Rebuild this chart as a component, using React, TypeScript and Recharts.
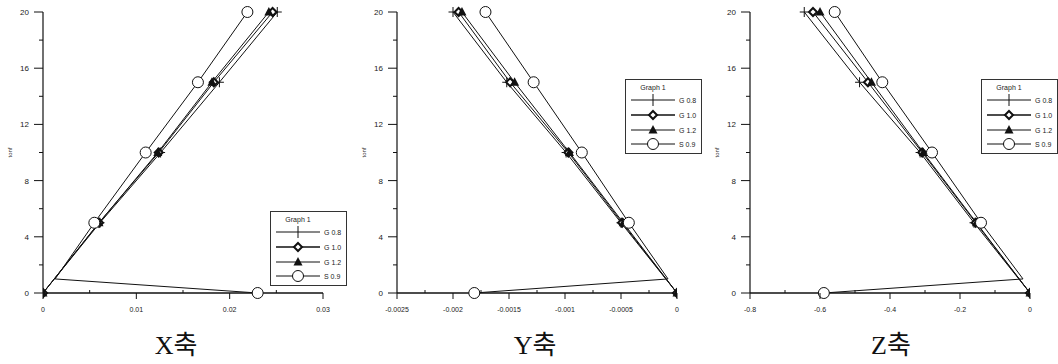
import React from 'react';
import { ScatterChart, Scatter, XAxis, YAxis, Label } from 'recharts';

// load steps (tonf)
const loads = [0, 5, 10, 15, 20];
const loadsS = [0, 1, 5, 10, 15, 20];

// X axis displacement
const xG08 = [0, 0.0061, 0.0126, 0.0189, 0.0251];
const xG10 = [0, 0.006, 0.0124, 0.0183, 0.0246];
const xG12 = [0, 0.006, 0.0123, 0.0181, 0.0242];
const xS09 = [0.023, 0.0013, 0.0055, 0.011, 0.0166, 0.0219];

// Y axis displacement
const yG08 = [0, -0.0005, -0.00099, -0.00152, -0.002];
const yG10 = [0, -0.00049, -0.00097, -0.00149, -0.00195];
const yG12 = [0, -0.00048, -0.00096, -0.00145, -0.00192];
const yS09 = [-0.00181, -0.00008, -0.00043, -0.00085, -0.00128, -0.00171];

// Z axis displacement
const zG08 = [0, -0.16, -0.314, -0.487, -0.645];
const zG10 = [0, -0.155, -0.308, -0.463, -0.62];
const zG12 = [0, -0.153, -0.305, -0.453, -0.6];
const zS09 = [-0.589, -0.02, -0.14, -0.28, -0.422, -0.558];

const loadTicks = [0, 4, 8, 12, 16, 20];
const loadMinor = [2, 6, 10, 14, 18];

const xTicks = [0, 0.01, 0.02, 0.03];
const xMinor = [0.005, 0.015, 0.025];
const yTicks = [-0.0025, -0.002, -0.0015, -0.001, -0.0005, 0];
const yMinor = [-0.00225, -0.00175, -0.00125, -0.00075, -0.00025];
const zTicks = [-0.8, -0.6, -0.4, -0.2, 0];
const zMinor = [-0.7, -0.5, -0.3, -0.1];

const seriesNames = ['G 0.8', 'G 1.0', 'G 1.2', 'S 0.9'];
const kinds = ['plus', 'diamond', 'triangle', 'circle'];

const INK = '#111';
const FONT = '"Liberation Sans", Arial, sans-serif';

const pts = (xs: number[], ys: number[]) => xs.map((v, i) => ({ x: v, y: ys[i] }));

const Marker = ({ cx, cy, kind, hide }: any) => {
  if (hide || cx == null) return <g />;
  if (kind === 'plus')
    return (
      <g stroke={INK} strokeWidth={1}>
        <line x1={cx - 4.5} x2={cx + 4.5} y1={cy} y2={cy} />
        <line x1={cx} x2={cx} y1={cy - 5} y2={cy + 5} />
      </g>
    );
  if (kind === 'diamond')
    return (
      <polygon
        points={`${cx},${cy - 4} ${cx + 4},${cy} ${cx},${cy + 4} ${cx - 4},${cy}`}
        fill="#fff"
        stroke={INK}
        strokeWidth={2}
      />
    );
  if (kind === 'triangle')
    return <polygon points={`${cx},${cy - 5} ${cx + 4.5},${cy + 3.5} ${cx - 4.5},${cy + 3.5}`} fill={INK} />;
  return <circle cx={cx} cy={cy} r={5.5} fill="#fff" stroke={INK} strokeWidth={1} />;
};

const XTick = ({ x, y, payload, majors }: any) => {
  const major = majors.includes(payload.value);
  if (!major) return <line x1={x} x2={x} y1={y} y2={y - 3} stroke={INK} />;
  return (
    <g>
      <line x1={x} x2={x} y1={y} y2={y + 6} stroke={INK} />
      <text x={x} y={y + 19} textAnchor="middle" fontSize={7} fill="#222" fontFamily={FONT}>
        {payload.value}
      </text>
    </g>
  );
};

const YTick = ({ x, y, payload }: any) => {
  const major = loadTicks.includes(payload.value);
  if (!major) return <line x1={x - 4} x2={x} y1={y} y2={y} stroke={INK} />;
  return (
    <g>
      <line x1={x - 9} x2={x} y1={y} y2={y} stroke={INK} />
      <text x={x - 14} y={y + 3} textAnchor="end" fontSize={8} fill="#222" fontFamily={FONT}>
        {payload.value}
      </text>
    </g>
  );
};

const LegendBox = ({ left, top }: { left: number; top: number }) => {
  const rows = [21, 36, 51, 65];
  return (
    <svg
      width={77}
      height={75}
      style={{ position: 'absolute', left, top, background: '#fff' }}
    >
      <rect x={0.5} y={0.5} width={76} height={74} fill="#fff" stroke="#333" />
      <text x={28} y={11} textAnchor="middle" fontSize={7} fill="#222" fontFamily={FONT}>
        Graph 1
      </text>
      {rows.map((ry, i) => (
        <g key={i}>
          <line x1={6} x2={50} y1={ry} y2={ry} stroke={INK} strokeWidth={i === 1 ? 1.6 : 1} />
          {kinds[i] === 'plus' ? (
            <line x1={28} x2={28} y1={ry - 6} y2={ry + 6} stroke={INK} />
          ) : (
            <Marker cx={28} cy={ry} kind={kinds[i]} />
          )}
          <text x={54} y={ry + 3} fontSize={7} fill="#222" fontFamily={FONT}>
            {seriesNames[i]}
          </text>
        </g>
      ))}
    </svg>
  );
};

type PanelProps = {
  left: number;
  width: number;
  domain: [number, number];
  ticks: number[];
  minor: number[];
  series: { x: number; y: number }[][];
};

const Panel = ({ left, width, domain, ticks, minor, series }: PanelProps) => (
  <div style={{ position: 'absolute', left, top: 0 }}>
    <ScatterChart width={width} height={320} margin={{ top: 12, right: width - 43 - 280, bottom: 0, left: 0 }}>
      <XAxis
        type="number"
        dataKey="x"
        domain={domain}
        ticks={[...ticks, ...minor].sort((a, b) => a - b)}
        interval={0}
        allowDataOverflow
        height={27}
        tickSize={0}
        tickMargin={0}
        tickLine={false}
        axisLine={{ stroke: INK, strokeWidth: 1.5 }}
        tick={<XTick majors={ticks} />}
      />
      <YAxis
        type="number"
        dataKey="y"
        domain={[0, 20]}
        ticks={[...loadTicks, ...loadMinor].sort((a, b) => a - b)}
        interval={0}
        width={43}
        tickSize={0}
        tickMargin={0}
        tickLine={false}
        axisLine={{ stroke: INK, strokeWidth: 1.2 }}
        tick={<YTick />}
      >
        <Label
          value="tonf"
          angle={-90}
          position="insideLeft"
          offset={10}
          style={{ textAnchor: 'middle', fontSize: 6, fill: '#333', fontFamily: FONT }}
        />
      </YAxis>
      {series.map((d, i) => (
        <Scatter
          key={i}
          name={seriesNames[i]}
          data={d}
          line={{ stroke: INK, strokeWidth: 1 }}
          isAnimationActive={false}
          shape={(p: any) => <Marker {...p} kind={kinds[i]} hide={i === 3 && p.payload && p.payload.y === 1} />}
        />
      ))}
    </ScatterChart>
  </div>
);

const Title = ({ cx, text }: { cx: number; text: string }) => (
  <div
    style={{
      position: 'absolute',
      left: cx - 40,
      width: 80,
      top: 331,
      textAlign: 'center',
      fontSize: 26,
      lineHeight: '30px',
      color: '#111',
      fontFamily: '"Liberation Serif", "Noto Sans CJK KR", serif',
    }}
  >
    {text}
  </div>
);

export default function App() {
  return (
    <div style={{ position: 'absolute', left: 0, top: 0, width: 1058, height: 364, background: '#fff', overflow: 'hidden' }}>
      <Panel
        left={0}
        width={341}
        domain={[0, 0.03]}
        ticks={xTicks}
        minor={xMinor}
        series={[pts(xG08, loads), pts(xG10, loads), pts(xG12, loads), pts(xS09, loadsS)]}
      />
      <Panel
        left={354}
        width={346}
        domain={[-0.0025, 0]}
        ticks={yTicks}
        minor={yMinor}
        series={[pts(yG08, loads), pts(yG10, loads), pts(yG12, loads), pts(yS09, loadsS)]}
      />
      <Panel
        left={707}
        width={351}
        domain={[-0.8, 0]}
        ticks={zTicks}
        minor={zMinor}
        series={[pts(zG08, loads), pts(zG10, loads), pts(zG12, loads), pts(zS09, loadsS)]}
      />
      <LegendBox left={270} top={211} />
      <LegendBox left={625} top={79} />
      <LegendBox left={981} top={79} />
      <Title cx={176} text="X축" />
      <Title cx={535} text="Y축" />
      <Title cx={891} text="Z축" />
    </div>
  );
}
